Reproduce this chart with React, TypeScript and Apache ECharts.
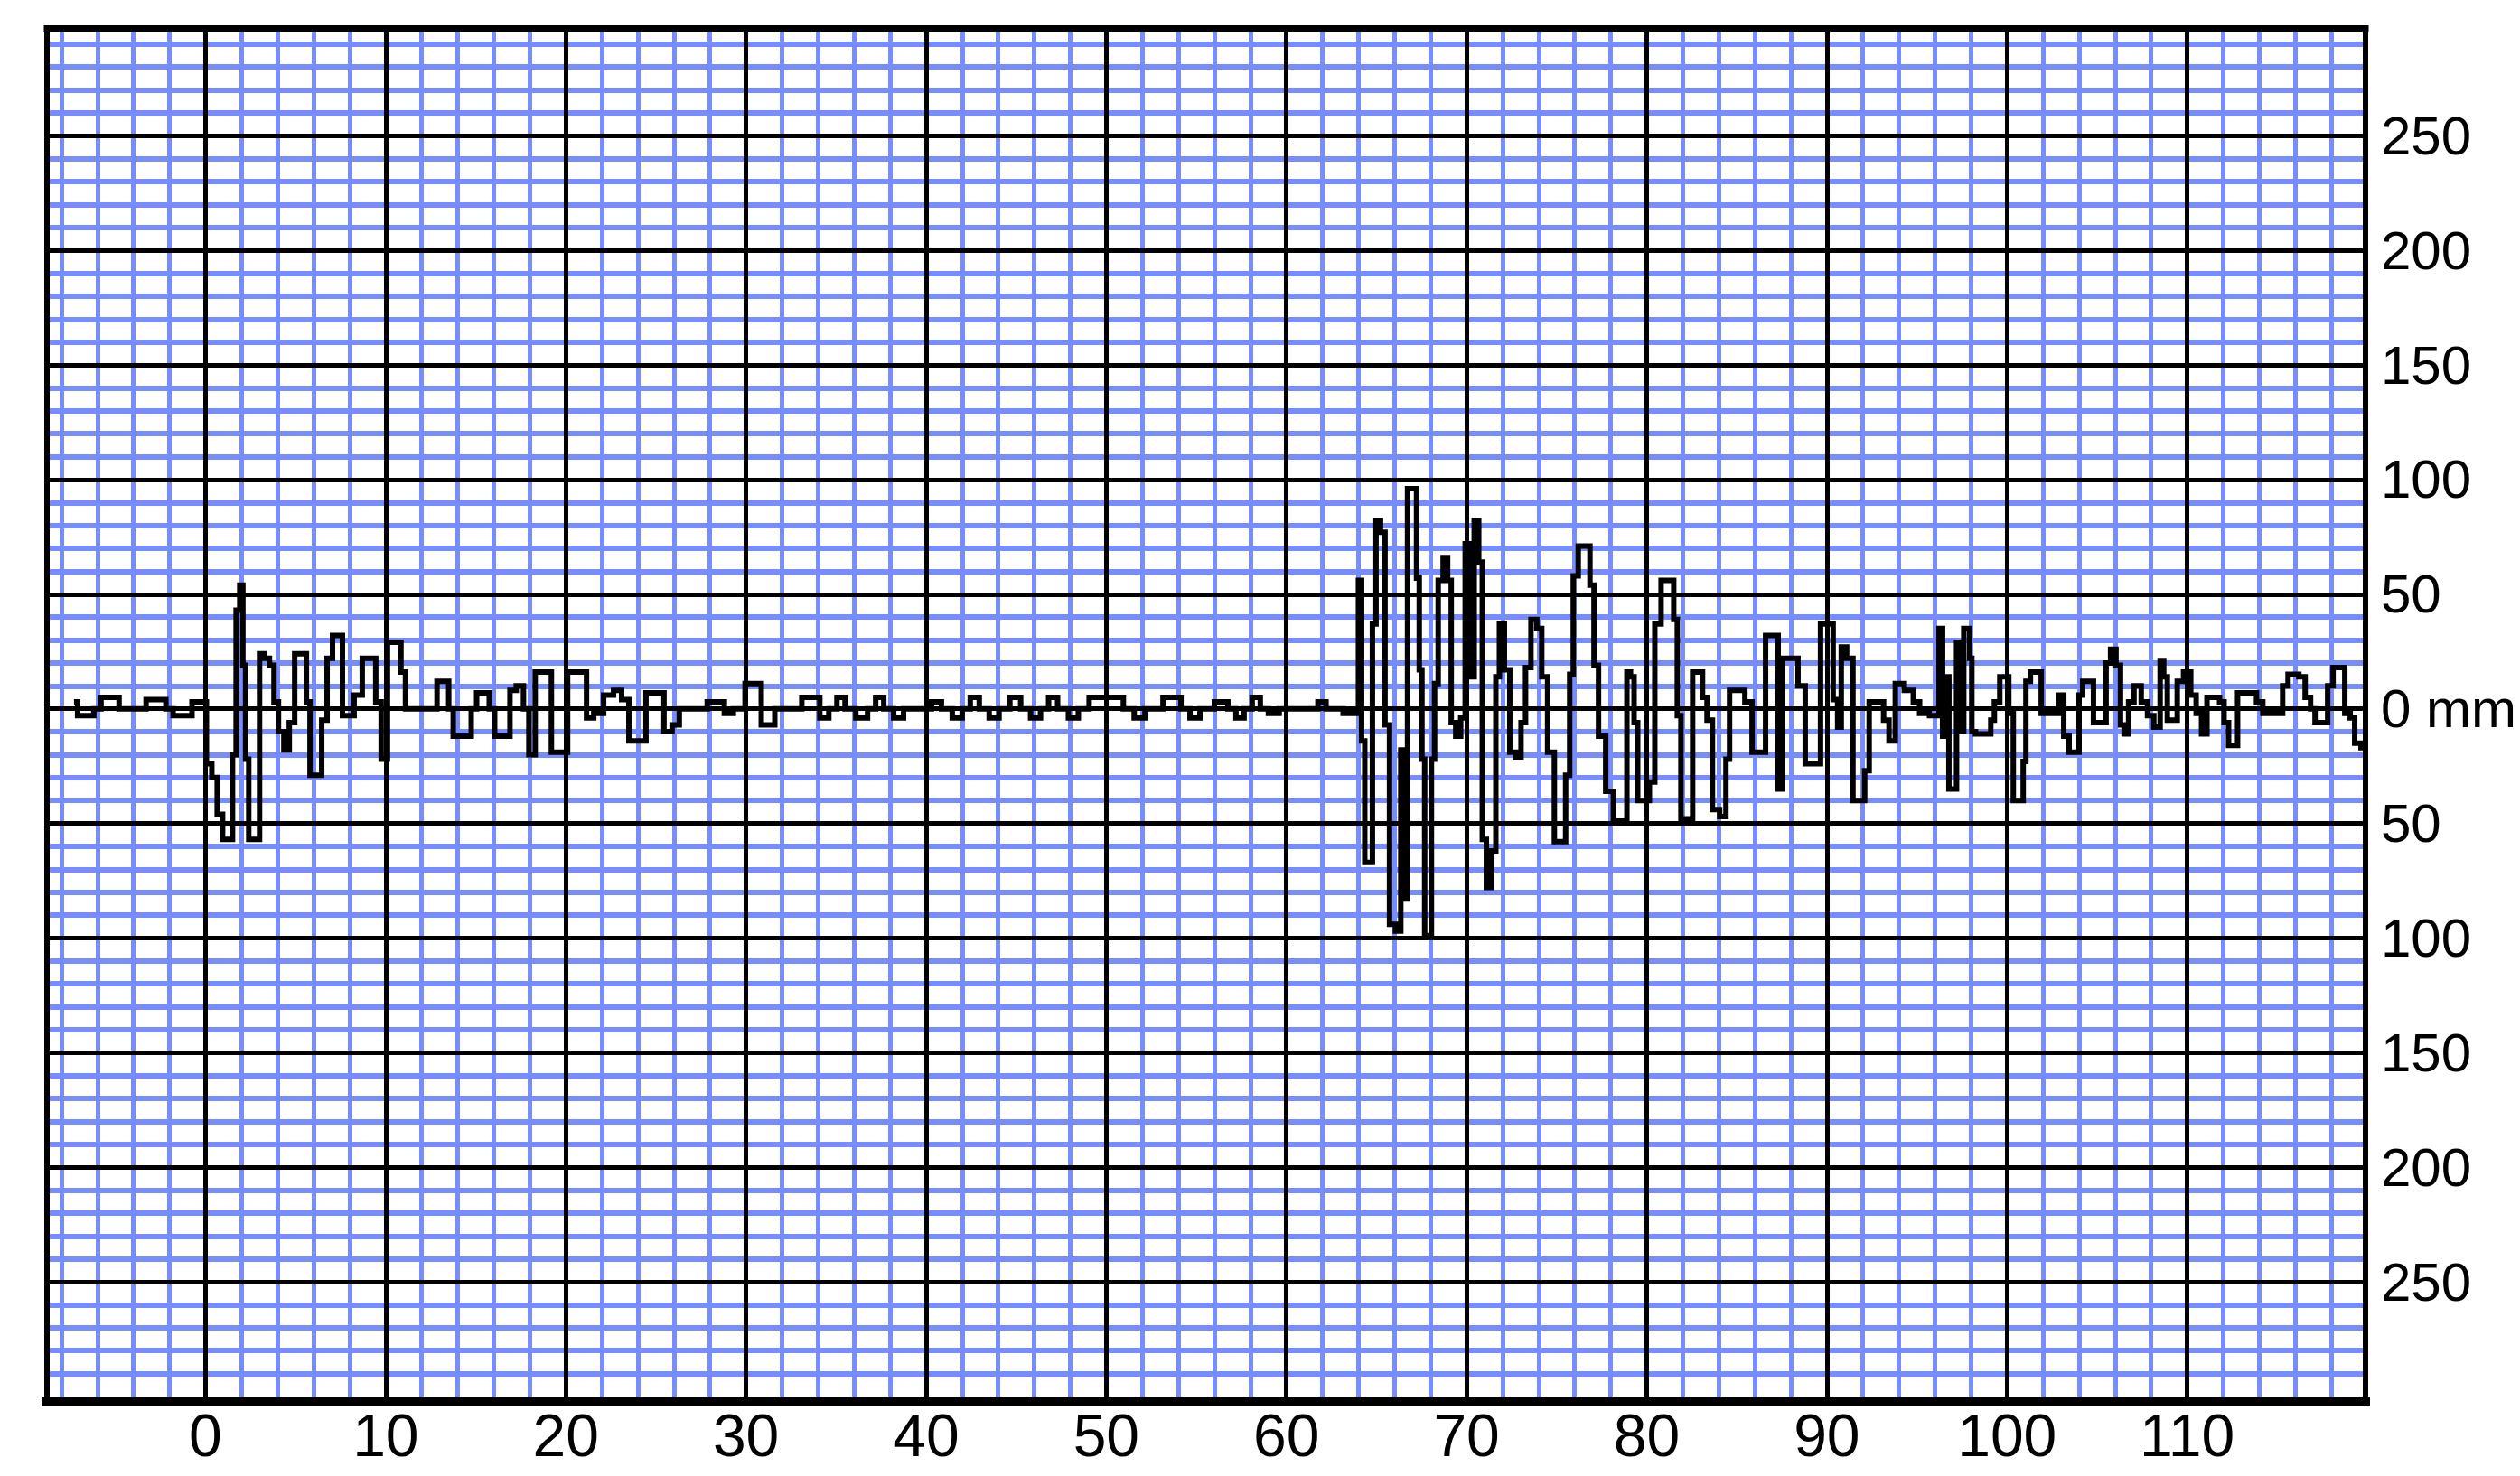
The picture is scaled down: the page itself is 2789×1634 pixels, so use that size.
import React, { useEffect, useRef } from "react";
import * as echarts from "echarts";

// ---- axes / ticks ----
const timeRange = [-8.8, 119.9];
const mmRange = [-302, 297];
const timeTicks = [0, 10, 20, 30, 40, 50, 60, 70, 80, 90, 100, 110];
const timeTickLabels = ["0", "10", "20", "30", "40", "50", "60", "70", "80", "90", "100", "110"];
const mmTicks = [250, 200, 150, 100, 50, 0, -50, -100, -150, -200, -250];
const mmTickLabels = ["250", "200", "150", "100", "50", "0 mm", "50", "100", "150", "200", "250"];
const minorTimeStep = 2;
const minorMmStep = 10;

// ---- seismogram trace, [time, mm] ----
const preEvent: [number, number][] = [
  [-7.3, 3], [-6.9, -3], [-6.4, -3], [-6.0, 0], [-5.6, 5], [-5.0, 5], [-4.6, 0], [-3.6, 0],
  [-3.0, 4], [-2.4, 4], [-2.0, 0], [-1.6, -3], [-0.9, -3], [-0.6, 3], [-0.1, 3],
];

const firstShock: [number, number][] = [
  [0.2, -24], [0.5, -30], [0.8, -46], [1.1, -57], [1.4, -57], [1.6, -20], [1.8, 43], [2.0, 54],
  [2.15, 19], [2.3, -22], [2.5, -57], [2.9, -57], [3.1, 24], [3.4, 22], [3.7, 19], [3.9, 3],
  [4.2, -10], [4.5, -18], [4.8, -6], [5.1, 24], [5.5, 24], [5.7, 3], [5.9, -29], [6.3, -29],
  [6.6, -5], [6.9, 22], [7.2, 32], [7.5, 32], [7.7, -3], [8.0, -3], [8.5, 6], [8.9, 22],
  [9.3, 22], [9.6, 3], [9.9, -22], [10.3, 29], [10.7, 29], [11.0, 16], [11.2, 0], [12.6, 0],
];

const aftershocks: [number, number][] = [
  [13.1, 12], [13.4, 12], [13.6, 0], [13.9, -12], [14.6, -12], [14.9, 0], [15.2, 7], [15.6, 7],
  [15.9, 0], [16.2, -12], [16.8, -12], [17.0, 8], [17.5, 10], [17.8, 0], [18.1, -20], [18.5, 16],
  [19.1, 16], [19.3, -19], [19.9, -19], [20.3, 16], [21.0, 16], [21.3, -4], [21.8, -2], [22.4, 6],
  [22.9, 8], [23.3, 4], [23.7, -14], [24.2, -14], [24.7, 7], [25.2, 7], [25.7, -10], [26.1, -7],
  [26.5, 0],
];

const quietInterval: [number, number][] = [
  [27.5, 0], [28.2, 3], [28.6, 3], [29.0, -2], [29.6, 0], [30.3, 11], [30.7, 11], [31.0, -7],
  [31.4, -7], [31.8, 0], [32.8, 0], [33.4, 5], [33.8, 5], [34.4, -4], [34.8, 0], [35.3, 5],
  [35.7, 0], [36.5, -4], [37.0, 0], [37.4, 5], [37.9, 0], [38.5, -4], [39.0, 0], [40.0, 0],
  [40.6, 3], [41.1, 0], [41.8, -4], [42.2, 0], [42.7, 5], [43.2, 0], [43.8, -4], [44.3, 0],
  [45.0, 5], [45.5, 0], [46.1, -4], [46.6, 0], [47.0, 5], [47.6, 0], [48.2, -4], [48.7, 0],
  [49.4, 5], [50.7, 5], [51.2, 0], [51.9, -4], [52.4, 0], [53.9, 5], [54.4, 0], [54.9, -4],
  [55.5, 0], [56.5, 3], [57.0, 0], [57.4, -4], [57.9, 0], [58.3, 5], [58.8, 0], [59.2, -2],
  [60.0, 0], [61.5, 0], [62.0, 3], [62.4, 0], [63.9, -2],
];

const mainShock: [number, number][] = [
  [64.1, 56], [64.25, -14], [64.45, -67], [64.7, -67], [64.85, 37], [65.1, 82], [65.35, 77],
  [65.6, -7], [65.85, -94], [66.25, -97], [66.45, -18], [66.6, -83], [66.85, 96], [67.15, 96],
  [67.3, 57], [67.45, 17], [67.6, -22], [67.75, -99], [67.95, -99], [68.15, -22], [68.3, 11],
  [68.55, 56], [68.85, 66], [69.05, 56], [69.25, -6], [69.55, -12], [69.8, -4], [70.05, 72],
  [70.3, 14], [70.55, 82], [70.8, 64], [70.95, -57], [71.25, -78], [71.55, -62], [71.7, 14],
  [71.95, 37], [72.25, 17], [72.55, -19], [72.9, -21], [73.15, -6], [73.4, 18], [73.75, 39],
  [74.05, 35], [74.3, 14], [74.7, -19], [75.05, -58], [75.35, -58], [75.65, -29], [75.8, 15],
  [76.05, 58], [76.35, 71], [76.75, 71], [76.95, 54], [77.2, 19], [77.45, -12],
];

const coda: [number, number][] = [
  [78.0, -36], [78.3, -49], [78.8, -49], [79.0, 16], [79.2, 14], [79.4, -6], [79.6, -40],
  [80.0, -40], [80.3, -32], [80.6, 37], [81.0, 56], [81.4, 56], [81.6, 39], [81.8, -3],
  [82.0, -48], [82.4, -48], [82.7, 16], [83.0, 16], [83.2, 5], [83.5, -5], [83.8, -44],
  [84.3, -47], [84.5, -22], [84.7, 8], [85.3, 8], [85.6, 3], [86.1, -19], [86.4, -19],
  [86.8, 32], [87.2, 32], [87.4, -35], [87.7, 22], [88.2, 22], [88.6, 10], [89.0, -24],
  [89.5, -24], [89.8, 37], [90.2, 37], [90.5, 4], [90.7, -8], [90.9, 27], [91.3, 22],
  [91.6, -40], [92.0, -40], [92.2, -27], [92.5, 3], [93.0, 3], [93.3, -5], [93.6, -14],
  [94.0, 11], [94.6, 8], [95.0, 3], [95.3, -2], [96.1, -3],
];

const tail: [number, number][] = [
  [96.35, 35], [96.5, -12], [96.7, 14], [96.85, -35], [97.1, -35], [97.3, 29], [97.5, -10],
  [97.7, 35], [97.85, 35], [98.0, 22], [98.1, -10], [98.4, -11], [99.0, -11], [99.2, -5],
  [99.4, 3], [99.8, 14], [100.0, 14], [100.2, -2], [100.5, -40], [100.8, -40], [101.0, -23],
  [101.1, 12], [101.5, 16], [101.8, 16], [102.0, -2], [102.7, -2], [103.0, 6], [103.3, -12],
  [103.6, -19], [103.9, -19], [104.1, 6], [104.3, 12], [104.7, 12], [104.9, -6], [105.4, -6],
  [105.6, 20], [105.9, 26], [106.2, 19], [106.4, -7], [106.6, -11], [106.9, 3], [107.2, 10],
  [107.7, 3], [107.9, -3], [108.4, -8], [108.6, 21], [108.8, 14], [109.0, -5], [109.3, -5],
  [109.6, 12], [110.0, 16], [110.4, 6], [110.6, -2], [111.0, -11], [111.2, 5], [111.7, 5],
  [111.9, 3], [112.2, -6], [112.4, -16], [112.7, -16], [112.9, 7], [113.7, 7], [114.0, 3],
  [114.4, -2], [115.2, -2], [115.4, 10], [115.8, 15], [116.0, 15], [116.4, 14], [116.7, 5],
  [117.0, 0], [117.2, -6], [117.7, -6], [117.9, 10], [118.3, 18], [118.6, 18], [118.9, -2],
  [119.2, -4], [119.4, -15], [119.9, -17],
];

const FONT = '"Liberation Sans", Arial, sans-serif';
const MINOR_BLUE = "#778cff";

function gridValues(lo: number, hi: number, step: number, skipEvery: number): number[] {
  const out: number[] = [];
  for (let v = Math.ceil(lo / step) * step; v <= hi; v += step) {
    if (v % skipEvery !== 0) out.push(v);
  }
  return out;
}

function labelFor(ticks: number[], labels: string[]) {
  return (v: number) => {
    const i = ticks.findIndex((t) => Math.abs(t - v) < 1e-6);
    return i >= 0 ? labels[i] : "";
  };
}

export default function App() {
  const ref = useRef<HTMLDivElement>(null);

  useEffect(() => {
    if (!ref.current) return;
    const chart = echarts.init(ref.current, undefined, { renderer: "svg" });

    const trace = [...preEvent, ...firstShock, ...aftershocks, ...quietInterval, ...mainShock, ...coda, ...tail];
    const minorT = gridValues(timeRange[0], timeRange[1], minorTimeStep, 10);
    const minorM = gridValues(mmRange[0], mmRange[1], minorMmStep, 50);

    const markBase = {
      silent: true,
      symbol: ["none", "none"],
      animation: false,
      label: { show: false },
      emphasis: { disabled: true },
    };

    chart.setOption({
      animation: false,
      backgroundColor: "#ffffff",
      grid: {
        left: 52,
        right: 171,
        top: 31,
        bottom: 83,
        show: true,
        backgroundColor: "#ffffff",
        borderWidth: 0,
      },
      xAxis: [
        {
          type: "value",
          min: timeRange[0],
          max: timeRange[1],
          splitNumber: 13,
          minInterval: 10,
          maxInterval: 10,
          position: "bottom",
          z: 10,
          axisLine: { show: true, onZero: false, lineStyle: { color: "#000", width: 10, cap: "square" } },
          axisTick: { show: false },
          splitLine: { show: false },
          axisLabel: {
            show: true,
            margin: 5,
            color: "#000",
            fontSize: 66,
            fontFamily: FONT,
            showMinLabel: false,
            showMaxLabel: false,
            formatter: labelFor(timeTicks, timeTickLabels),
          },
        },
        {
          type: "value",
          min: timeRange[0],
          max: timeRange[1],
          position: "top",
          z: 10,
          axisLine: { show: true, onZero: false, lineStyle: { color: "#000", width: 7, cap: "square" } },
          axisTick: { show: false },
          splitLine: { show: false },
          axisLabel: { show: false },
        },
      ],
      yAxis: [
        {
          type: "value",
          min: mmRange[0],
          max: mmRange[1],
          splitNumber: 12,
          minInterval: 50,
          maxInterval: 50,
          position: "right",
          z: 10,
          axisLine: { show: true, onZero: false, lineStyle: { color: "#000", width: 6, cap: "square" } },
          axisTick: { show: false },
          splitLine: { show: false },
          axisLabel: {
            show: true,
            margin: 17,
            color: "#000",
            fontSize: 60,
            fontFamily: FONT,
            showMinLabel: false,
            showMaxLabel: false,
            formatter: labelFor(mmTicks, mmTickLabels),
          },
        },
        {
          type: "value",
          min: mmRange[0],
          max: mmRange[1],
          position: "left",
          z: 10,
          axisLine: { show: true, onZero: false, lineStyle: { color: "#000", width: 6, cap: "square" } },
          axisTick: { show: false },
          splitLine: { show: false },
          axisLabel: { show: false },
        },
      ],
      series: [
        {
          name: "minor grid",
          type: "line",
          xAxisIndex: 0,
          yAxisIndex: 0,
          data: [],
          silent: true,
          z: 1,
          markLine: {
            ...markBase,
            z: 1,
            lineStyle: { color: MINOR_BLUE, type: "solid", width: 5, opacity: 1 },
            data: [
              ...minorT.map((t) => ({ xAxis: t, lineStyle: { color: MINOR_BLUE, type: "solid", width: 5 } })),
              ...minorM.map((v) => ({ yAxis: v, lineStyle: { color: MINOR_BLUE, type: "solid", width: 6 } })),
            ],
          },
        },
        {
          name: "major grid",
          type: "line",
          xAxisIndex: 0,
          yAxisIndex: 0,
          data: [],
          silent: true,
          z: 2,
          markLine: {
            ...markBase,
            z: 2,
            lineStyle: { color: "#000", type: "solid", width: 5, opacity: 1 },
            data: [
              ...timeTicks.map((t) => ({ xAxis: t, lineStyle: { color: "#000", type: "solid", width: 5 } })),
              ...mmTicks.map((v) => ({ yAxis: v, lineStyle: { color: "#000", type: "solid", width: 5 } })),
            ],
          },
        },
        {
          name: "trace",
          type: "line",
          xAxisIndex: 0,
          yAxisIndex: 0,
          data: trace,
          step: "middle",
          showSymbol: false,
          symbol: "none",
          silent: true,
          z: 3,
          lineStyle: { color: "#000", width: 6, join: "miter" },
        },
      ],
    });

    return () => chart.dispose();
  }, []);

  return (
    <div
      ref={ref}
      style={{ position: "absolute", left: 0, top: 0, width: 2789, height: 1634, background: "#ffffff" }}
    />
  );
}
